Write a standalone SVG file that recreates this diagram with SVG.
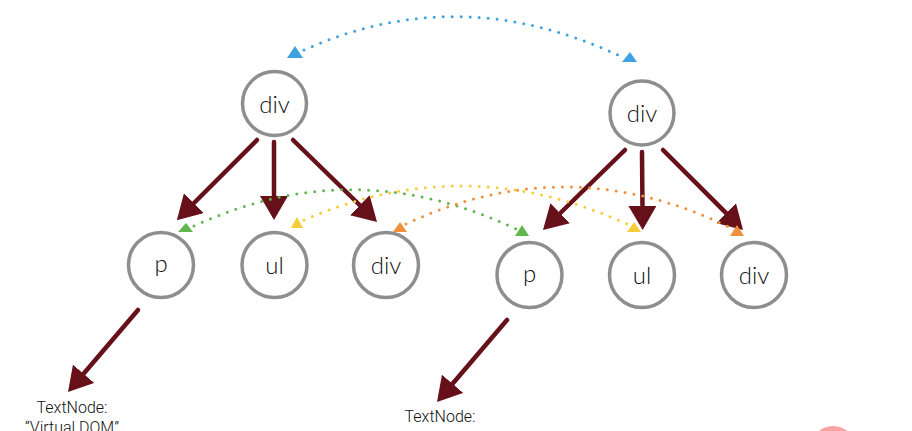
<svg xmlns="http://www.w3.org/2000/svg" width="912" height="431" viewBox="0 0 912 431">
  <style>
    .node circle { fill: #ffffff; stroke: #8e8e8e; stroke-width: 3.5; }
    .node text { font-family: Lato, "Liberation Sans", sans-serif; font-weight: 300; font-size: 24px; fill: #111; text-anchor: middle; }
    .tree { stroke: #66101a; stroke-width: 4.5; fill: none; stroke-linecap: round; }
    .dot { fill: none; stroke-width: 3; stroke-linecap: round; stroke-dasharray: 0 9; }
    .lbl { font-family: Roboto, "Liberation Sans", sans-serif; font-weight: 300; font-size: 16px; fill: #111; text-anchor: middle; }
  </style>
  <defs>
    <marker id="ah" viewBox="0 0 24 28" refX="4" refY="14" markerWidth="24" markerHeight="28" markerUnits="userSpaceOnUse" orient="auto">
      <path d="M0,0 L24,14 L0,28 z" fill="#66101a"/>
    </marker>
  </defs>

  <rect width="912" height="431" fill="#ffffff"/>

  <g id="node-div-top-left" class="node"><circle cx="274.5" cy="103.5" r="32"/><text x="274.5" y="113">div</text></g>
  <g id="node-div-top-right" class="node"><circle cx="642" cy="113" r="32"/><text x="642" y="122">div</text></g>
  <g id="node-p-left" class="node"><circle cx="161" cy="265" r="32.5"/><text x="161" y="272">p</text></g>
  <g id="node-ul-left" class="node"><circle cx="274.5" cy="265" r="32.5"/><text x="274.5" y="274">ul</text></g>
  <g id="node-div-left" class="node"><circle cx="386" cy="265" r="32.5"/><text x="386" y="274">div</text></g>
  <g id="node-p-right" class="node"><circle cx="529.5" cy="275" r="32.5"/><text x="529.5" y="282">p</text></g>
  <g id="node-ul-right" class="node"><circle cx="642" cy="275" r="32.5"/><text x="642" y="284">ul</text></g>
  <g id="node-div-right" class="node"><circle cx="754" cy="275" r="32.5"/><text x="754" y="284">div</text></g>

  <g id="text-left"><text class="lbl" x="72" y="413">TextNode:</text><text class="lbl" x="72" y="433">“Virtual DOM”</text></g>
  <g id="text-right"><text class="lbl" x="440" y="422">TextNode:</text></g>

  <g id="connectors">
    <path class="tree" d="M257,140 L191,206" marker-end="url(#ah)"/>
    <path class="tree" d="M274,142 L274,200" marker-end="url(#ah)"/>
    <path class="tree" d="M293,140 L362.7,208" marker-end="url(#ah)"/>
    <path class="tree" d="M625,150 L557.3,216" marker-end="url(#ah)"/>
    <path class="tree" d="M642,152 L642.5,210" marker-end="url(#ah)"/>
    <path class="tree" d="M663,150 L728.9,215.9" marker-end="url(#ah)"/>
    <path class="tree" d="M138,310 L81,376.8" marker-end="url(#ah)"/>
    <path class="tree" d="M507,320 L450,386.8" marker-end="url(#ah)"/>

    <path class="dot" stroke="#3ea2e0" d="M304,50 Q460,-20 622,57"/>
    <polygon fill="#3ea2e0" points="295,46 303,58 287,58"/>
    <polygon fill="#3ea2e0" points="630,52 637,62 622,62"/>

    <path class="dot" stroke="#62b64e" d="M194,226 Q354,152 516,229"/>
    <polygon fill="#62b64e" points="186,223 193,232 178,232"/>
    <polygon fill="#62b64e" points="522,225 529,236 515,236"/>

    <path class="dot" stroke="#f5cd3a" d="M304,220 Q465,150 627,224"/>
    <polygon fill="#f5cd3a" points="297,217 303,228 291,228"/>
    <polygon fill="#f5cd3a" points="634,222 641,232 627,232"/>

    <path class="dot" stroke="#f0903a" d="M406,224 Q568,148 731,228"/>
    <polygon fill="#f0903a" points="400,222 407,232 393,232"/>
    <polygon fill="#f0903a" points="737,225 744,236 730,236"/>
  </g>

  <circle cx="833" cy="449" r="23" fill="#f9a3a3"/>
</svg>
